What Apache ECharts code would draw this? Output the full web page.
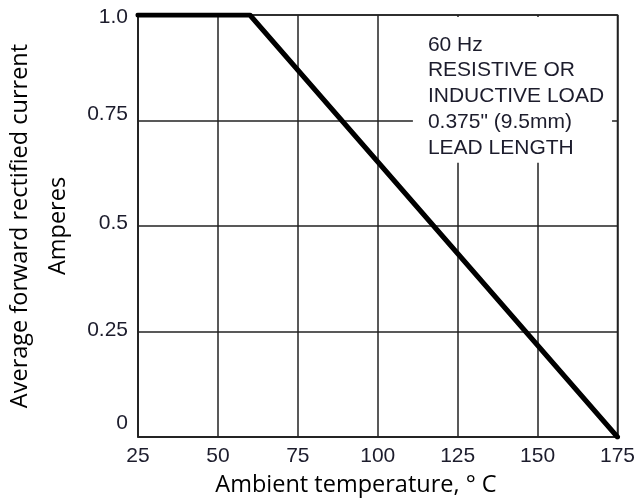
<!DOCTYPE html>
<html>
<head>
<meta charset="utf-8">
<script src="https://cdn.jsdelivr.net/npm/echarts@6/dist/echarts.min.js"></script>
<style>html,body{margin:0;padding:0;background:#fff}#c{width:638px;height:502px}</style>
</head>
<body>
<div id="c"></div>
<script>
const temps = [25, 60, 175];
const current = [1.0, 1.0, 0];
const xTicks = [25, 50, 75, 100, 125, 150, 175];
const yTicks = [0, 0.25, 0.5, 0.75, 1.0];
const yTickLabels = {0: '0', 0.25: '0.25', 0.5: '0.5', 0.75: '0.75', 1: '1.0'};
const noteLines = ['60 Hz', 'RESISTIVE OR', 'INDUCTIVE LOAD', '0.375" (9.5mm)', 'LEAD LENGTH'];
const xTitle = 'Ambient temperature, \u00b0 C';
const yTitle = ['Average forward rectified current', 'Amperes'];

const chart = echarts.init(document.getElementById('c'), null, {renderer: 'canvas'});
const gridCol = '#222';
const labelFont = {fontFamily: 'Liberation Sans, Arial, sans-serif', fontSize: 21, color: '#1c1c2c'};
// vertical nudge of y tick labels as printed (px, negative = up)
const yNudge = {0: -14, 0.25: -1, 0.5: -3, 0.75: -6, 1: 2};
const rich = {};
yTicks.forEach((v, i) => {
  const n = yNudge[v];
  rich['r' + i] = Object.assign({}, labelFont, {padding: n < 0 ? [0, 0, -2 * n, 0] : [2 * n, 0, 0, 0]});
});
chart.setOption({
  animation: false,
  backgroundColor: '#fff',
  grid: {left: 138, right: 20, top: 15, bottom: 65, show: true, borderColor: gridCol, borderWidth: 1.5, backgroundColor: 'transparent'},
  xAxis: {
    type: 'value', min: 25, max: 175, interval: 25,
    axisLine: {show: true, lineStyle: {color: gridCol, width: 1.5}},
    axisTick: {show: false},
    splitLine: {show: true, lineStyle: {color: gridCol, width: 1.5}},
    axisLabel: Object.assign({margin: 9}, labelFont)
  },
  yAxis: {
    type: 'value', min: 0, max: 1, interval: 0.25,
    axisLine: {show: true, lineStyle: {color: gridCol, width: 1.5}},
    axisTick: {show: false},
    splitLine: {show: true, lineStyle: {color: gridCol, width: 1.5}},
    axisLabel: Object.assign({margin: 10, rich: rich, formatter: v => {
      const i = yTicks.indexOf(v);
      const t = yTickLabels[v] !== undefined ? yTickLabels[v] : String(v);
      return i >= 0 ? '{r' + i + '|' + t + '}' : t;
    }}, labelFont)
  },
  series: [{
    type: 'line', data: temps.map((t, i) => [t, current[i]]),
    showSymbol: false, symbol: 'none',
    lineStyle: {color: '#000', width: 5, cap: 'round', join: 'round'},
    z: 5
  }]
});

// annotation box anchored in data coordinates
const p1 = chart.convertToPixel({gridIndex: 0}, [111, 0.995]);
const p2 = chart.convertToPixel({gridIndex: 0}, [173.3, 0.65]);
const titleFont = 'Open Sans, Noto Sans, sans-serif';
chart.setOption({
  graphic: [
    {type: 'rect', shape: {x: p1[0], y: p1[1], width: p2[0] - p1[0], height: p2[1] - p1[1]}, style: {fill: '#fff'}, z: 3},
    {type: 'text', x: p1[0] + 15, y: p1[1] + 15, z: 4,
      style: {text: noteLines.join('\n'), fontFamily: 'Liberation Sans, Arial, sans-serif', fontSize: 21, lineHeight: 25.7, fill: '#1c1c2c'}},
    {type: 'text', x: 356, y: 485, z: 4,
      style: {text: xTitle, fontFamily: titleFont, fontSize: 23.5, fill: '#000', align: 'center', verticalAlign: 'middle'}},
    {type: 'text', x: 39, y: 226, rotation: Math.PI / 2, z: 4,
      style: {text: yTitle.join('\n'), fontFamily: titleFont, fontSize: 23.5, lineHeight: 38, fill: '#000', align: 'center', verticalAlign: 'middle'}}
  ]
});
</script>
</body>
</html>
